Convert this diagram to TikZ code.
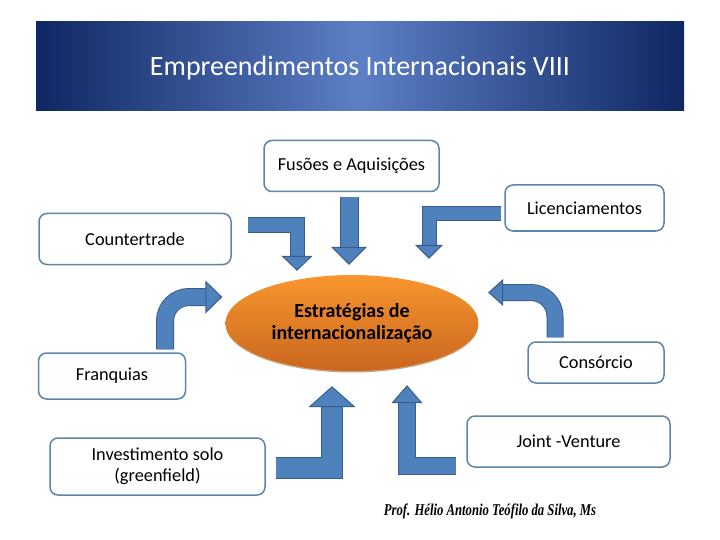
\documentclass[tikz,border=0pt]{standalone}
\usepackage{fontspec}
\setmainfont{Carlito}
\newfontfamily\signfont{Liberation Serif}
\usetikzlibrary{arrows.meta,shapes.geometric,shadows}
\definecolor{headdark}{HTML}{0F2763}
\definecolor{headlight}{HTML}{5C7FC6}
\definecolor{boxedge}{HTML}{5E84AC}
\definecolor{blockblue}{HTML}{4F81BD}
\definecolor{blockedge}{HTML}{385D8A}
\definecolor{coretop}{HTML}{F9962E}
\definecolor{corebottom}{HTML}{C9661F}
\definecolor{coreedge}{HTML}{C9A27E}
\tikzset{
  box/.style={draw=boxedge,line width=1.5pt,rounded corners=8pt,fill=white,
    inner sep=0pt,align=center,font=\fontsize{18.3}{21}\selectfont},
  bigarrow/.style n args={3}{draw=blockedge,line width=1pt,double=blockblue,
    double distance=#1,
    -{Triangle[width=#2,length=#3,fill=blockblue,color=blockedge,line width=1pt]}},
}
\begin{document}
\begin{tikzpicture}[x=1pt,y=-1pt]
\useasboundingbox (0,0) rectangle (720,540);
\node[minimum width=648pt,minimum height=89pt,inner sep=0pt,
  left color=headdark,right color=headdark,middle color=headlight] (headbar) at (360,66.5) {};
\node[font=\fontsize{28}{32}\selectfont,text=white] (title) at (360,68)
  {Empreendimentos Internacionais VIII};
\node[box,minimum width=175pt,minimum height=51pt] (fusoes) at (351.5,166) {Fusões e Aquisições};
\node[box,minimum width=159pt,minimum height=46pt] (licenc) at (584.5,208) {Licenciamentos};
\node[box,minimum width=192pt,minimum height=51pt] (counter) at (135,239) {Countertrade};
\node[box,minimum width=147pt,minimum height=46pt] (franq) at (112,376) {Franquias};
\node[box,minimum width=136pt,minimum height=41pt] (consorcio) at (596,362.5) {Consórcio};
\node[box,minimum width=215pt,minimum height=57pt] (invest) at (157.5,466.5) {Investimento solo\\(greenfield)};
\node[box,minimum width=203pt,minimum height=51pt] (joint) at (568.5,441.5) {Joint -Venture};
\node[ellipse,minimum width=253pt,minimum height=96pt,inner sep=0pt,
  top color=coretop,bottom color=corebottom,
  general shadow={fill=coreedge,shadow yshift=-1.5pt},align=center,
  font=\fontsize{20}{22}\selectfont\bfseries] (core) at (352,323)
  {Estratégias de\\internacionalização};
% arrows into the centre
\draw[bigarrow={13pt}{31pt}{15pt}] ([shift={(16,-14)}]counter.east) -| ([shift={(-55,-4)}]core.north);
\draw[bigarrow={17pt}{36pt}{18pt}] ([shift={(-2.5,5)}]fusoes.south) -- ([shift={(-3,-10)}]core.north);
\draw[bigarrow={13pt}{28pt}{14pt}] ([shift={(-3,6)}]licenc.west) -| ([shift={(77,-16)}]core.north);
\draw[bigarrow={16pt}{33pt}{17pt},rounded corners=24pt] ([shift={(53,-3)}]franq.north) |- ([shift={(-3,-26)}]core.west);
\draw[bigarrow={15pt}{27pt}{15pt},rounded corners=24pt] ([shift={(-41,-4)}]consorcio.north) |- ([shift={(9.5,-30.5)}]core.east);
\draw[bigarrow={20pt}{47pt}{21pt}] ([shift={(10,1)}]invest.east) -| ([shift={(-20,15)}]core.south);
\draw[bigarrow={16pt}{31pt}{18pt}] ([shift={(-10,24)}]joint.west) -| ([shift={(55,14)}]core.south);
\node[font=\signfont\fontsize{16.5}{20}\selectfont\bfseries\itshape,xscale=.77] (signature) at (490,511)
  {Prof. Hélio Antonio Teófilo da Silva, Ms};
\end{tikzpicture}
\end{document}
